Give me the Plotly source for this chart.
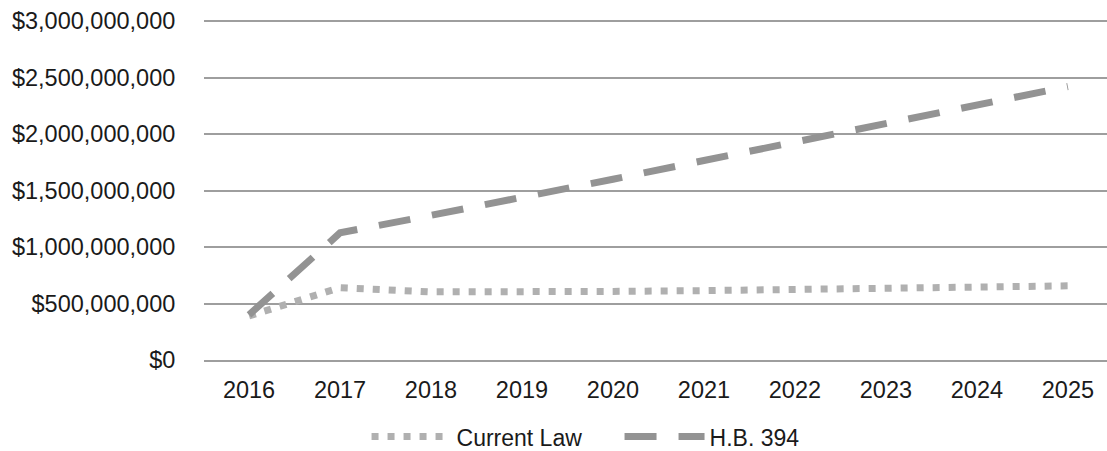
import plotly.graph_objects as go

years = ["2016", "2017", "2018", "2019", "2020", "2021", "2022", "2023", "2024", "2025"]
current_law = [390e6, 640e6, 603e6, 598e6, 607e6, 614e6, 621e6, 632e6, 644e6, 656e6]
hb_394 = [400e6, 1125e6, 1280e6, 1435e6, 1600e6, 1765e6, 1930e6, 2095e6, 2260e6, 2420e6]

y_ticks = [0, 500e6, 1000e6, 1500e6, 2000e6, 2500e6, 3000e6]
y_tick_text = ["$0", "$500,000,000", "$1,000,000,000", "$1,500,000,000",
               "$2,000,000,000", "$2,500,000,000", "$3,000,000,000"]

FONT = "Liberation Sans, Arial, sans-serif"
FS = 23.5

fig = go.Figure()
fig.add_trace(go.Scatter(
    x=years, y=current_law, name="Current Law", mode="lines",
    line=dict(color="#b0b0b0", width=7, dash="7px,9px"),
))
fig.add_trace(go.Scatter(
    x=years, y=hb_394, name="H.B. 394", mode="lines",
    line=dict(color="#939393", width=7, dash="32px,22px"),
))

fig.update_layout(
    width=1107, height=451,
    margin=dict(l=204, r=0, t=18, b=91, autoexpand=False),
    paper_bgcolor="white", plot_bgcolor="white",
    font=dict(family=FONT, size=FS, color="#1a1a1a"),
    showlegend=True,
    legend=dict(orientation="h", x=0.18, xanchor="left", y=-0.224, yanchor="middle",
                font=dict(family=FONT, size=23, color="#1a1a1a"),
                itemwidth=80, entrywidth=158, traceorder="normal"),
    xaxis=dict(
        type="category", range=[-0.495, 9.43], automargin=False,
        showgrid=False, zeroline=False,
        showline=True, linecolor="#9e9e9e", linewidth=1.5,
        ticks="outside", ticklen=8, tickcolor="rgba(0,0,0,0)",
        tickfont=dict(family=FONT, size=FS, color="#1a1a1a"),
    ),
    yaxis=dict(
        range=[0, 3026.5e6], automargin=False,
        tickvals=y_ticks, ticktext=y_tick_text, ticklabeloverflow="allow",
        showgrid=True, gridcolor="#9e9e9e", gridwidth=1.5,
        zeroline=False, showline=False,
        ticks="outside", ticklen=23, tickcolor="rgba(0,0,0,0)",
        tickfont=dict(family=FONT, size=FS, color="#1a1a1a"),
    ),
)

fig.write_html(
    "out.html",
    config={"displayModeBar": False},
    post_script="document.body.style.margin='0';document.body.style.overflow='hidden';",
)
